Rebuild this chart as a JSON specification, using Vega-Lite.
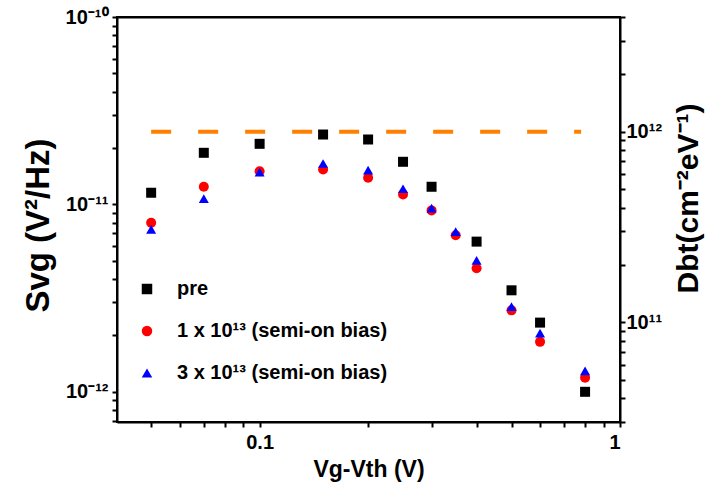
{
  "$schema": "https://vega.github.io/schema/vega-lite/v6.json",
  "width": 503,
  "height": 405,
  "autosize": {"type": "none"},
  "padding": {"left": 117, "top": 17, "right": 95, "bottom": 75},
  "background": "white",
  "config": {
    "font": "Liberation Sans",
    "view": {"stroke": "black", "strokeWidth": 2},
    "axis": {
      "domainColor": "black", "domainWidth": 2, "tickColor": "black", "tickWidth": 2,
      "labelFont": "Liberation Sans", "labelFontWeight": "bold", "labelColor": "black",
      "titleFont": "Liberation Sans", "titleFontWeight": "bold", "titleColor": "black",
      "grid": false
    },
    "legend": {
      "labelFontSize": 20, "labelFont": "Liberation Sans", "labelFontWeight": "bold", "labelColor": "black",
      "symbolSize": 110, "rowPadding": 22, "labelOffset": 20, "symbolStrokeWidth": 0, "labelLimit": 500
    }
  },
  "datasets": {
    "pts": [
      {"v": 0.05, "s": 1.154e-11, "series": "pre"},
      {"v": 0.07, "s": 1.885e-11, "series": "pre"},
      {"v": 0.1, "s": 2.105e-11, "series": "pre"},
      {"v": 0.15, "s": 2.36e-11, "series": "pre"},
      {"v": 0.2, "s": 2.22e-11, "series": "pre"},
      {"v": 0.25, "s": 1.688e-11, "series": "pre"},
      {"v": 0.3, "s": 1.242e-11, "series": "pre"},
      {"v": 0.4, "s": 6.33e-12, "series": "pre"},
      {"v": 0.5, "s": 3.48e-12, "series": "pre"},
      {"v": 0.6, "s": 2.34e-12, "series": "pre"},
      {"v": 0.8, "s": 1.0e-12, "series": "pre"},
      {"v": 0.05, "s": 7.99e-12, "series": "1 x 10¹³ (semi-on bias)"},
      {"v": 0.07, "s": 1.242e-11, "series": "1 x 10¹³ (semi-on bias)"},
      {"v": 0.1, "s": 1.504e-11, "series": "1 x 10¹³ (semi-on bias)"},
      {"v": 0.15, "s": 1.536e-11, "series": "1 x 10¹³ (semi-on bias)"},
      {"v": 0.2, "s": 1.388e-11, "series": "1 x 10¹³ (semi-on bias)"},
      {"v": 0.25, "s": 1.131e-11, "series": "1 x 10¹³ (semi-on bias)"},
      {"v": 0.3, "s": 9.29e-12, "series": "1 x 10¹³ (semi-on bias)"},
      {"v": 0.35, "s": 6.84e-12, "series": "1 x 10¹³ (semi-on bias)"},
      {"v": 0.4, "s": 4.56e-12, "series": "1 x 10¹³ (semi-on bias)"},
      {"v": 0.5, "s": 2.72e-12, "series": "1 x 10¹³ (semi-on bias)"},
      {"v": 0.6, "s": 1.847e-12, "series": "1 x 10¹³ (semi-on bias)"},
      {"v": 0.8, "s": 1.19e-12, "series": "1 x 10¹³ (semi-on bias)"},
      {"v": 0.05, "s": 7.36e-12, "series": "3 x 10¹³ (semi-on bias)"},
      {"v": 0.07, "s": 1.073e-11, "series": "3 x 10¹³ (semi-on bias)"},
      {"v": 0.1, "s": 1.486e-11, "series": "3 x 10¹³ (semi-on bias)"},
      {"v": 0.15, "s": 1.653e-11, "series": "3 x 10¹³ (semi-on bias)"},
      {"v": 0.2, "s": 1.523e-11, "series": "3 x 10¹³ (semi-on bias)"},
      {"v": 0.25, "s": 1.212e-11, "series": "3 x 10¹³ (semi-on bias)"},
      {"v": 0.3, "s": 9.56e-12, "series": "3 x 10¹³ (semi-on bias)"},
      {"v": 0.35, "s": 7.15e-12, "series": "3 x 10¹³ (semi-on bias)"},
      {"v": 0.4, "s": 5.03e-12, "series": "3 x 10¹³ (semi-on bias)"},
      {"v": 0.5, "s": 2.85e-12, "series": "3 x 10¹³ (semi-on bias)"},
      {"v": 0.6, "s": 2.055e-12, "series": "3 x 10¹³ (semi-on bias)"},
      {"v": 0.8, "s": 1.294e-12, "series": "3 x 10¹³ (semi-on bias)"}
    ],
    "dline": [
      {"v": 0.05, "d": 1e12},
      {"v": 0.78, "d": 1e12}
    ]
  },
  "layer": [
    {
      "data": {"name": "pts"},
      "mark": {"type": "point", "filled": true, "opacity": 1, "strokeWidth": 0},
      "encoding": {
        "x": {
          "field": "v", "type": "quantitative",
          "scale": {"type": "log", "domain": [0.0402, 1], "nice": false},
          "axis": {
            "orient": "bottom",
            "title": "Vg-Vth (V)",
            "titleFontSize": 23, "titlePadding": 6,
            "labelFontSize": 20, "labelPadding": 5,
            "tickSize": 5,
            "labelExpr": "abs(datum.value-0.1)<1e-9 ? '0.1' : (abs(datum.value-1)<1e-9 ? '1' : '')"
          }
        },
        "y": {
          "field": "s", "type": "quantitative",
          "scale": {"type": "log", "domain": [6.9e-13, 1e-10], "nice": false},
          "axis": {
            "orient": "left",
            "title": "Svg (V²/Hz)",
            "titleFontSize": 33, "titlePadding": 10,
            "titleY": 208,
            "labelFontSize": 20, "labelPadding": 4,
            "tickSize": 5,
            "labelExpr": "abs(datum.value-1e-10)<1e-14 ? '10⁻¹⁰' : (abs(datum.value-1e-11)<1e-15 ? '10⁻¹¹' : (abs(datum.value-1e-12)<1e-16 ? '10⁻¹²' : ''))"
          }
        },
        "shape": {
          "field": "series", "type": "nominal",
          "scale": {"domain": ["pre", "1 x 10¹³ (semi-on bias)", "3 x 10¹³ (semi-on bias)"], "range": ["square", "circle", "triangle-up"]},
          "legend": {"title": null, "orient": "none", "legendX": 20, "legendY": 262}
        },
        "color": {
          "field": "series", "type": "nominal",
          "scale": {"domain": ["pre", "1 x 10¹³ (semi-on bias)", "3 x 10¹³ (semi-on bias)"], "range": ["#000000", "#ff0000", "#0000ff"]},
          "legend": {"title": null, "orient": "none", "legendX": 20, "legendY": 262}
        },
        "size": {"value": 100}
      }
    },
    {
      "data": {"name": "dline"},
      "mark": {"type": "line", "color": "#ff8000", "strokeWidth": 4, "strokeDash": [20, 27]},
      "encoding": {
        "x": {
          "field": "v", "type": "quantitative",
          "scale": {"type": "log", "domain": [0.0402, 1], "nice": false},
          "axis": {"orient": "top", "title": null, "labels": false, "ticks": false}
        },
        "y": {
          "field": "d", "type": "quantitative",
          "scale": {"type": "log", "domain": [3e10, 4e12], "nice": false},
          "axis": {
            "orient": "right",
            "title": "Dbt(cm⁻²eV⁻¹)",
            "titleAngle": -90,
            "titleBaseline": "top",
            "titleFontSize": 30, "titlePadding": 12,
            "titleY": 181,
            "labelFontSize": 20, "labelPadding": 1,
            "tickSize": 5,
            "labelExpr": "abs(datum.value-1e12)<1e3 ? '10¹²' : (abs(datum.value-1e11)<1e2 ? '10¹¹' : '')"
          }
        }
      }
    }
  ],
  "resolve": {"scale": {"y": "independent"}, "axis": {"x": "independent", "y": "independent"}}
}
